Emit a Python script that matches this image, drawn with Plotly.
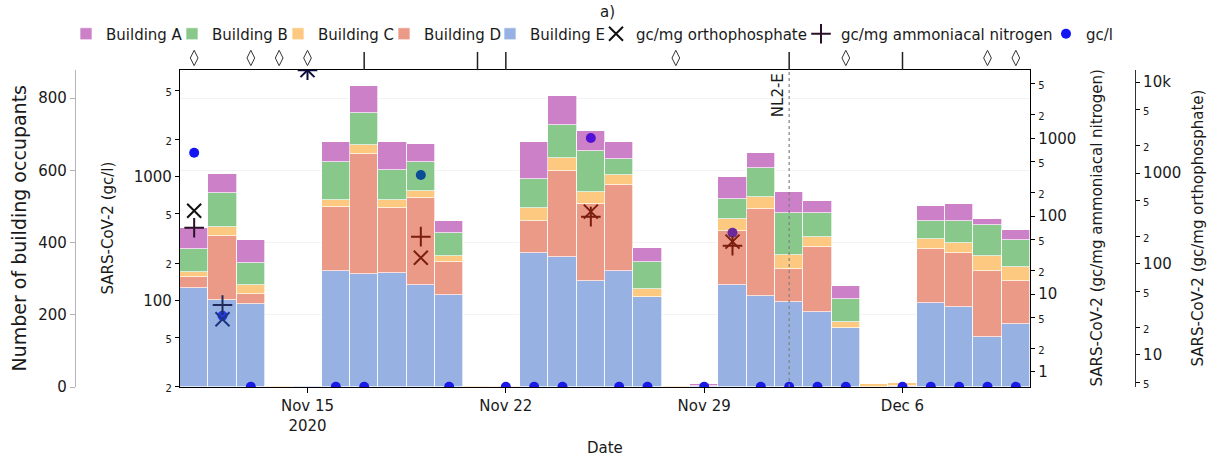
import numpy as np
import plotly.graph_objects as go

FIG_W, FIG_H = 1211, 459

# ---- data -------------------------------------------------------------
dates = [f"2020-11-{d:02d}" for d in range(11, 31)] + [f"2020-12-{d:02d}" for d in range(1, 11)]

# building occupants per day (stacked)
building_e = [275, 241, 229, 0, 2, 320, 312, 315, 282, 254, 0, 0, 370, 359, 293, 320, 249, 0, 4, 282,
              252, 234, 208, 162, 0, 2, 232, 221, 139, 174]
building_d = [29, 178, 29, 0, 0, 179, 332, 180, 242, 91, 0, 0, 90, 240, 213, 240, 0, 0, 0, 151,
              241, 92, 180, 0, 0, 0, 151, 151, 181, 120]
building_c = [15, 23, 24, 3, 1, 19, 26, 23, 19, 18, 4, 4, 36, 35, 34, 26, 22, 4, 0, 33,
              34, 39, 27, 17, 7, 8, 26, 27, 43, 38]
building_b = [63, 96, 60, 0, 0, 104, 88, 83, 79, 64, 0, 0, 79, 90, 114, 44, 74, 0, 0, 54,
              78, 116, 66, 64, 0, 0, 50, 60, 85, 74]
building_a = [59, 51, 65, 0, 0, 55, 76, 76, 50, 33, 0, 0, 102, 82, 54, 47, 39, 0, 3, 60,
              42, 58, 33, 37, 0, 0, 43, 47, 17, 29]

# SARS-CoV-2 concentrations
gcl_dates = ["2020-11-11", "2020-11-12", "2020-11-13", "2020-11-16", "2020-11-17", "2020-11-19",
             "2020-11-20", "2020-11-22", "2020-11-23", "2020-11-24", "2020-11-25", "2020-11-26",
             "2020-11-27", "2020-11-29", "2020-11-30", "2020-12-01", "2020-12-02", "2020-12-03",
             "2020-12-04", "2020-12-06", "2020-12-07", "2020-12-08", "2020-12-09", "2020-12-10"]
gcl_values = [1563, 75, 20, 20, 20, 1032, 20, 20, 20, 20, 2055, 20, 20, 20, 352, 20, 20, 20, 20,
              20, 20, 20, 20, 20]
gcl_colors = ["#1414f5", "#2438e6", "#1a1ae6", "#1a1ae6", "#1a1ae6", "#0b4c96", "#1a1ae6",
              "#1a1ae6", "#1a1ae6", "#1a1ae6", "#5210d6", "#1a1ae6", "#1a1ae6", "#1a1ae6",
              "#6a2a9a", "#1a1ae6", "#1a1ae6", "#1a1ae6", "#1a1ae6", "#1a1ae6", "#1a1ae6",
              "#1a1ae6", "#1a1ae6", "#1a1ae6"]

norm_dates = ["2020-11-11", "2020-11-12", "2020-11-15", "2020-11-19", "2020-11-25", "2020-11-30"]
ortho_values = [385, 24.7, 13500, 117, 376, 176]
ammonia_values = [71, 7.24, 7500, 54.6, 98.6, 41.8]
ortho_colors = ["#111111", "#1b3580", "#0b0b40", "#7b1e0e", "#7b1e0e", "#7b1e0e"]
ammonia_colors = ["#2a1028", "#1f2a5a", "#0b0b40", "#7b1e0e", "#7b1e0e", "#7b1e0e"]

# sampling annotations along the top edge
diamond_dates = ["2020-11-11", "2020-11-13", "2020-11-14", "2020-11-15", "2020-11-28",
                 "2020-12-04", "2020-12-09", "2020-12-10"]
bar_tick_dates = ["2020-11-17", "2020-11-21", "2020-11-22", "2020-12-02", "2020-12-06"]
event_date = "2020-12-02"
event_label = "NL2-E"

occupant_ticks = [0, 200, 400, 600, 800]
gcl_ticks = [20, 50, 100, 200, 500, 1000, 2000, 5000]
ammonia_ticks = [1, 2, 5, 10, 20, 50, 100, 200, 500, 1000, 2000, 5000]
ortho_ticks = [5, 10, 20, 50, 100, 200, 500, 1000, 2000, 5000, 10000]
date_ticks = ["2020-11-15", "2020-11-22", "2020-11-29", "2020-12-06"]
date_ticktext = ["Nov 15<br>2020", "Nov 22", "Nov 29", "Dec 6"]

buildings = [("Building E", building_e, "#97b2e2"),
             ("Building D", building_d, "#ec9a88"),
             ("Building C", building_c, "#fdc980"),
             ("Building B", building_b, "#88c98b"),
             ("Building A", building_a, "#cb80c8")]

# ---- layout geometry (pixels) ------------------------------------------
PLOT_L, PLOT_R, PLOT_T, PLOT_B = 180, 1030, 70, 387
px_x = lambda p: p / FIG_W
px_y = lambda p: 1 - p / FIG_H

FONT = "DejaVu Sans"
TXT = "#1a1a1a"


def log_ticktext(values):
    out = []
    for v in values:
        exp = np.floor(np.log10(v) + 1e-9)
        mant = v / 10 ** exp
        if abs(mant - 1) < 1e-6:
            out.append("10k" if v >= 10000 else f"{v:g}")
        else:
            out.append(f'<span style="font-size:10px">{mant:.0f}</span>')
    return out


fig = go.Figure()

legend_rank = {"Building A": 1, "Building B": 2, "Building C": 3, "Building D": 4, "Building E": 5}
for name, vals, col in buildings:
    fig.add_trace(go.Bar(
        x=dates, y=vals, name=name, width=86400000,
        marker=dict(color=col, line=dict(color="rgba(255,255,255,0.85)", width=0.8)),
        xaxis="x", yaxis="y", legendrank=legend_rank[name], legendwidth=61,
    ))

fig.add_trace(go.Scatter(
    x=gcl_dates, y=gcl_values, mode="markers", name="gc/l",
    marker=dict(symbol="circle", size=10, color=gcl_colors, line=dict(width=0)),
    xaxis="x", yaxis="y2", cliponaxis=True, legendrank=8,
))
fig.add_trace(go.Scatter(
    x=norm_dates, y=ammonia_values, mode="markers", name="gc/mg ammoniacal nitrogen",
    marker=dict(symbol="cross-thin", size=14, line=dict(width=2, color=ammonia_colors)),
    xaxis="x", yaxis="y3", cliponaxis=True, legendrank=7, legendwidth=200,
))
fig.add_trace(go.Scatter(
    x=norm_dates, y=ortho_values, mode="markers", name="gc/mg orthophosphate",
    marker=dict(symbol="x-thin", size=14, line=dict(width=2, color=ortho_colors)),
    xaxis="x", yaxis="y4", cliponaxis=True, legendrank=6, legendwidth=160,
))

# markers above the frame
fig.add_trace(go.Scatter(
    x=diamond_dates, y=[12] * len(diamond_dates), mode="markers", showlegend=False,
    marker=dict(symbol="diamond-tall-open", size=11, color="#333333", line=dict(width=1, color="#333333")),
    xaxis="x", yaxis="y5", cliponaxis=False, hoverinfo="skip",
))
fig.add_trace(go.Scatter(
    x=bar_tick_dates, y=[9] * len(bar_tick_dates), mode="markers", showlegend=False,
    marker=dict(symbol="line-ns", size=13, line=dict(width=1.5, color="#222222")),
    xaxis="x", yaxis="y5", cliponaxis=False, hoverinfo="skip",
))

axis_common = dict(ticks="outside", ticklen=4, tickwidth=1, tickcolor="black", showline=True,
                   linecolor="black", linewidth=1.3, showgrid=False, zeroline=False, automargin=False,
                   tickfont=dict(size=15, color=TXT, family=FONT))

fig.update_layout(
    width=FIG_W, height=FIG_H, margin=dict(l=0, r=0, t=0, b=0, autoexpand=False),
    paper_bgcolor="white", plot_bgcolor="white",
    font=dict(family=FONT, size=15, color=TXT),
    barmode="stack", bargap=0, showlegend=True,
    legend=dict(orientation="h", x=px_x(66), xanchor="left", y=px_y(34), yanchor="middle",
                font=dict(size=15, family=FONT, color=TXT), bgcolor="rgba(0,0,0,0)",
                itemwidth=30, traceorder="normal"),
    xaxis=dict(domain=[px_x(PLOT_L), px_x(PLOT_R)], type="date",
               range=["2020-11-10 12:00", "2020-12-10 12:00"],
               tickvals=date_ticks, ticktext=date_ticktext, mirror=True, anchor="y",
               **{**axis_common, "ticklen": 5}),
    yaxis=dict(domain=[px_y(PLOT_B), px_y(PLOT_T)], anchor="free", position=px_x(75), side="left",
               range=[0, (PLOT_B - PLOT_T) / 0.36125], tickvals=occupant_ticks, automargin=False,
               ticks="outside", ticklen=5, tickcolor="#b5b5b5", showline=True, linecolor="#b5b5b5",
               linewidth=1.2, showgrid=True, gridcolor="#f3f3f3", gridwidth=1, zeroline=False,
               tickfont=dict(size=15, color=TXT, family=FONT)),
    yaxis2=dict(overlaying="y", anchor="x", side="left", type="log", range=[1.299, 3.863],
                tickvals=gcl_ticks, ticktext=log_ticktext(gcl_ticks), **axis_common),
    yaxis3=dict(overlaying="y", anchor="x", side="right", type="log", range=[-0.193, 3.877],
                tickvals=ammonia_ticks, ticktext=log_ticktext(ammonia_ticks), **axis_common),
    yaxis4=dict(overlaying="y", anchor="free", position=px_x(1135), side="right", type="log",
                range=[0.648, 4.132], tickvals=ortho_ticks, ticktext=log_ticktext(ortho_ticks),
                **{**axis_common, "linecolor": "#333333", "linewidth": 1.2}),
    yaxis5=dict(domain=[px_y(PLOT_T), px_y(46)], anchor="x", range=[0, 24], visible=False,
                automargin=False),
)

fig.add_shape(type="line", xref="x", yref="y domain", x0=event_date, x1=event_date, y0=0, y1=1,
              line=dict(color="#808080", width=1.2, dash="dot"))

annotations = [
    dict(text=event_label, x=event_date, xref="x", y=px_y(PLOT_T), yref="paper", textangle=-90,
         xanchor="right", yanchor="top", yshift=-1, font=dict(size=15)),
    dict(text="a)", x=px_x(607), y=px_y(12), xref="paper", yref="paper", font=dict(size=15)),
    dict(text="Date", x=px_x(605), y=px_y(448), xref="paper", yref="paper", font=dict(size=15)),
    dict(text="Number of building occupants", x=px_x(18), y=px_y(228.5), xref="paper",
         yref="paper", textangle=-90, font=dict(size=19)),
    dict(text="SARS-CoV-2 (gc/l)", x=px_x(107), y=px_y(228.5), xref="paper", yref="paper",
         textangle=-90, font=dict(size=15)),
    dict(text="SARS-CoV-2 (gc/mg ammoniacal nitrogen)", x=px_x(1096), y=px_y(228.5),
         xref="paper", yref="paper", textangle=-90, font=dict(size=15)),
    dict(text="SARS-CoV-2 (gc/mg orthophosphate)", x=px_x(1197), y=px_y(228.5),
         xref="paper", yref="paper", textangle=-90, font=dict(size=15)),
]
for a in annotations:
    a.setdefault("showarrow", False)
    a.setdefault("xanchor", "center")
    a.setdefault("yanchor", "middle")
    fig.add_annotation(**a)

fig.write_html("out.html")
